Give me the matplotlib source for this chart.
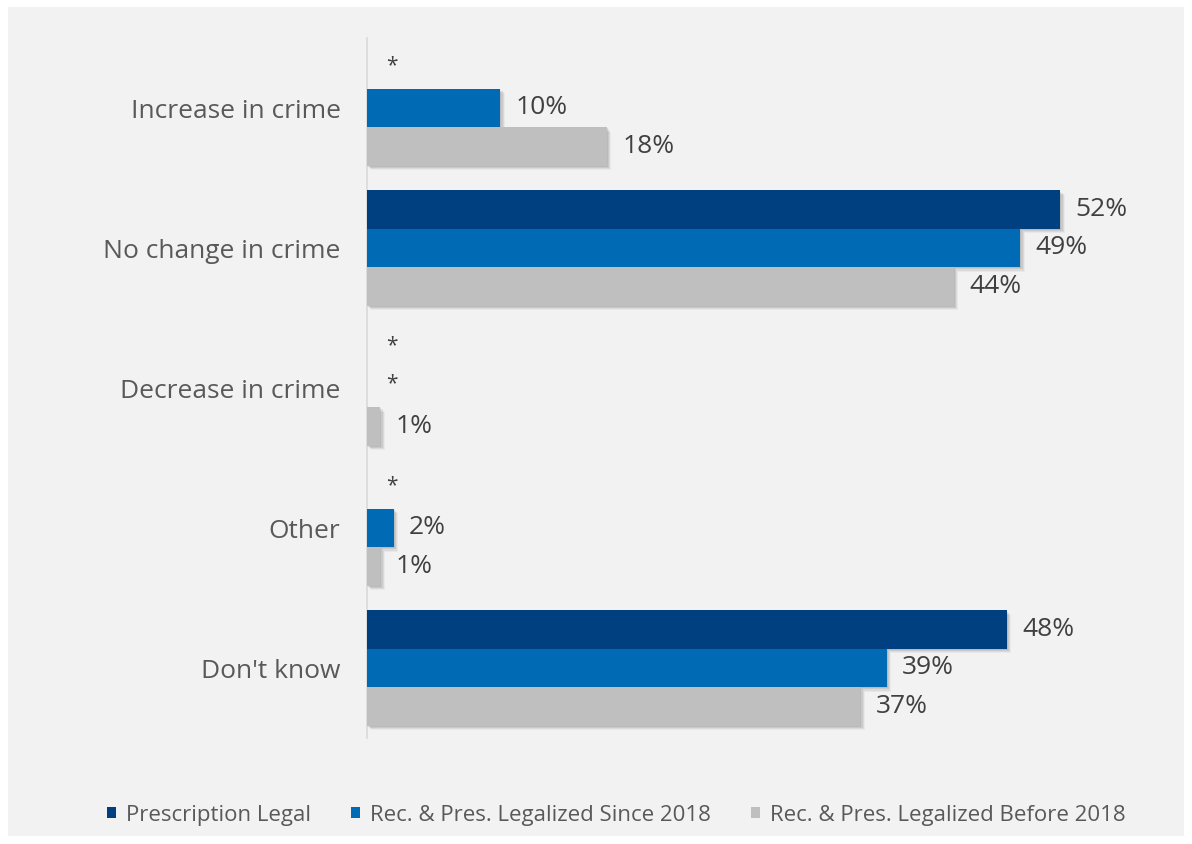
import numpy as np
import matplotlib
matplotlib.use("Agg")
import matplotlib.pyplot as plt
import matplotlib.patheffects as pe
from matplotlib.patches import Rectangle, Patch

# ---------------------------------------------------------------------------
# Data
# ---------------------------------------------------------------------------

CATEGORIES = ["Increase in crime", "No change in crime", "Decrease in crime",
              "Other", "Don't know"]
SERIES = ["Prescription Legal", "Rec. & Pres. Legalized Since 2018",
          "Rec. & Pres. Legalized Before 2018"]
PRESCRIPTION = [None, 52, None, None, 48]
SINCE_2018 = [10, 49, None, 2, 39]
BEFORE_2018 = [18, 44, 1, 1, 37]

COLORS = ["#004080", "#006AB4", "#BFBFBF"]
BG = "#F2F2F2"

plt.rcParams["font.family"] = ["Open Sans", "DejaVu Sans"]

fig = plt.figure(figsize=(11.92, 8.44), dpi=100, facecolor="white")
fig.patches.append(Rectangle((8 / 1192, 8 / 844), 1176 / 1192, 829 / 844,
                             transform=fig.transFigure, facecolor=BG,
                             edgecolor="none", zorder=-10))

ax = fig.add_axes([367 / 1192, 106 / 844, 800 / 1192, 700 / 844])
ax.set_facecolor("none")

bar_h = 0.274
y = np.arange(len(CATEGORIES))
# soft drop shadow built from a few faint offset copies
shadow = [pe.SimplePatchShadow(offset=(d, -d), shadow_rgbFace="#505050", alpha=a)
          for d, a in [(3.2, 0.06), (2.4, 0.09), (1.6, 0.12), (0.8, 0.12)]]
shadow.append(pe.Normal())

for k, (vals, color) in enumerate(zip([PRESCRIPTION, SINCE_2018, BEFORE_2018], COLORS)):
    ypos = y + (k - 1) * bar_h
    for yi, v in zip(ypos, vals):
        if v is None:
            ax.annotate("*", xy=(0, yi), xytext=(14, 3), textcoords="offset points",
                        ha="left", va="center", fontsize=15, color="#404040")
            continue
        bars = ax.barh(yi, v, height=bar_h, color=color, zorder=3)
        for b in bars:
            b.set_path_effects(shadow)
        ax.annotate(f"{v}%", xy=(v, yi), xytext=(11, 0), textcoords="offset points",
                    ha="left", va="center", fontsize=19, color="#404040")

ax.set_xlim(0, 60)
ax.set_ylim(len(CATEGORIES) - 0.5, -0.5)
ax.set_yticks(y)
ax.set_yticklabels(CATEGORIES, fontsize=19, color="#595959")
ax.tick_params(axis="y", length=0, pad=19)
ax.set_xticks([])
for s in ["top", "right", "bottom"]:
    ax.spines[s].set_visible(False)
ax.spines["left"].set_color("#D9D9D9")
ax.spines["left"].set_linewidth(1.2)

handles = [Patch(facecolor=c) for c in COLORS]
fig.legend(handles, SERIES, loc="center", bbox_to_anchor=(0.517, 29 / 844),
           ncol=3, frameon=False, fontsize=16, labelcolor="#595959",
           handlelength=0.4, handleheight=0.4, handletextpad=0.45,
           columnspacing=1.8)

fig.savefig("out.png", dpi=100, facecolor="white")
